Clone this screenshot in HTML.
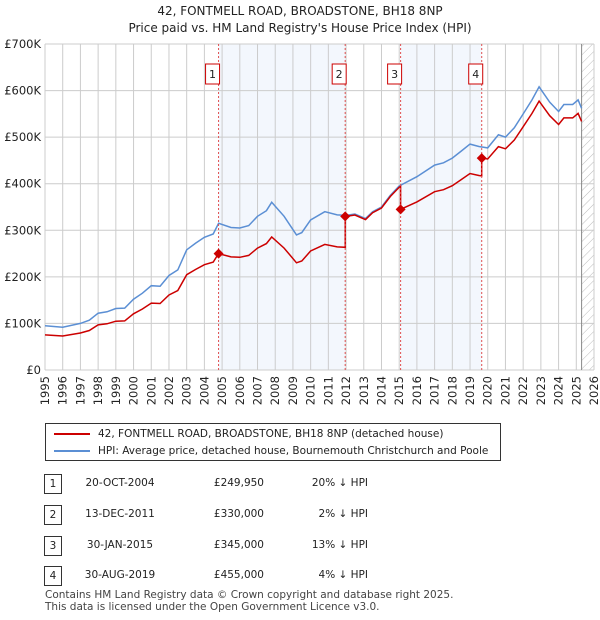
<!DOCTYPE html>
<html><head><meta charset="utf-8"><style>
body{margin:0;background:#fff;font-family:"DejaVu Sans","Liberation Sans",sans-serif;}
#wrap{position:relative;width:600px;height:620px;overflow:hidden}
.t{position:absolute;font-size:12px;color:#222}
</style></head><body>
<div id="wrap">
<div class="t" style="left:0;width:600px;top:3px;text-align:center;font-size:12px;line-height:17px;color:#222">42, FONTMELL ROAD, BROADSTONE, BH18 8NP<br>Price paid vs. HM Land Registry's House Price Index (HPI)</div>
<svg id="chart" width="600" height="420" style="position:absolute;left:0;top:0;font-family:'DejaVu Sans',sans-serif"></svg>
<div style="position:absolute;left:45px;top:423px;width:456px;height:38px;border:1px solid #333;box-sizing:border-box">
 <div style="position:absolute;left:8px;top:4px;font-size:10.5px;color:#222"><span style="display:inline-block;width:36px;height:2px;background:#cc0000;vertical-align:middle;margin-right:8px"></span>42, FONTMELL ROAD, BROADSTONE, BH18 8NP (detached house)</div>
 <div style="position:absolute;left:8px;top:21px;font-size:10.5px;color:#222"><span style="display:inline-block;width:36px;height:2px;background:#5b8fd4;vertical-align:middle;margin-right:8px"></span>HPI: Average price, detached house, Bournemouth Christchurch and Poole</div>
</div>
<div id="table"></div>
<div class="t" style="left:45px;top:589px;font-size:10.5px;line-height:12px;color:#444">Contains HM Land Registry data © Crown copyright and database right 2025.<br>This data is licensed under the Open Government Licence v3.0.</div>
</div>
<script>
const hpiYears=[1995,1996,1997,1997.5,1998,1998.5,1999,1999.5,2000,2000.5,2001,2001.5,2002,2002.5,2003,2003.5,2004,2004.5,2004.8,2005.5,2006,2006.5,2007,2007.5,2007.8,2008.5,2009.2,2009.5,2010,2010.8,2011.5,2012,2012.5,2013.1,2013.5,2014,2014.5,2015,2016,2017,2017.5,2018,2018.5,2019,2019.5,2020,2020.6,2021,2021.5,2022,2022.5,2022.9,2023.5,2024,2024.3,2024.8,2025.1,2025.3];
const hpiValues=[95,92,100,107,122,125,132,133,152,165,181,180,203,215,258,272,285,292,315,306,305,310,330,342,360,330,290,295,322,340,333,332,335,325,340,350,375,395,415,440,445,455,470,485,480,477,505,500,520,550,580,608,575,555,570,570,580,562];
const saleLabels=["1","2","3","4"];
const saleYears=[2004.8,2011.95,2015.08,2019.66];
const salePrices=[249.95,330,345,455];
const saleDates=["20-OCT-2004","13-DEC-2011","30-JAN-2015","30-AUG-2019"];
const salePriceText=["£249,950","£330,000","£345,000","£455,000"];
const salePct=["20% ↓ HPI","2% ↓ HPI","13% ↓ HPI","4% ↓ HPI"];
const yTicks=[0,100,200,300,400,500,600,700];
const yTickLabels=["£0","£100K","£200K","£300K","£400K","£500K","£600K","£700K"];
const xTicks=[1995,1996,1997,1998,1999,2000,2001,2002,2003,2004,2005,2006,2007,2008,2009,2010,2011,2012,2013,2014,2015,2016,2017,2018,2019,2020,2021,2022,2023,2024,2025,2026];

const L=45,R=594,T=44,B=370,X0=1995,X1=2026,Ymax=700;
const sx=v=>L+(v-X0)/(X1-X0)*(R-L);
const sy=v=>B-v/Ymax*(B-T);
const NS="http://www.w3.org/2000/svg";
const svg=document.getElementById('chart');
function mk(tag,attrs,parent){const e=document.createElementNS(NS,tag);for(const k in attrs)e.setAttribute(k,attrs[k]);(parent||svg).appendChild(e);return e;}
function hpiAt(y){for(let i=1;i<hpiYears.length;i++){if(y<=hpiYears[i]){const a=hpiYears[i-1],b=hpiYears[i];return hpiValues[i-1]+(hpiValues[i]-hpiValues[i-1])*(y-a)/(b-a);}}return hpiValues[hpiValues.length-1];}
for(let i=0;i<saleYears.length;i+=2){
 const x1=sx(saleYears[i]),x2=i+1<saleYears.length?sx(saleYears[i+1]):R;
 const r=mk('rect',{x:x1,y:T,width:x2-x1,height:B-T,fill:'#eef3fc',opacity:0.7});
 
 
}
const defs=mk('defs',{});
const pat=mk('pattern',{id:'hatch',width:6,height:6,patternUnits:'userSpaceOnUse',patternTransform:'rotate(45)'},defs);
mk('line',{x1:0,y1:0,x2:0,y2:6,stroke:'#bbb','stroke-width':1},pat);
const lastX=sx(2025.3);
const hr=mk('rect',{x:lastX,y:T,width:R-lastX,height:B-T,fill:'url(#hatch)'});


xTicks.forEach(v=>{const l=mk('line',{x1:sx(v),x2:sx(v),y1:T,y2:B,stroke:'#ccc','stroke-width':1});
 
 
 const t=mk('text',{x:0,y:0,'font-size':11.5,fill:'#222','text-anchor':'end',transform:`translate(${sx(v)+4},${B+6}) rotate(-90)`});
 t.textContent=v;
 
 
});
yTicks.forEach((v,i)=>{const l=mk('line',{x1:L,x2:R,y1:sy(v),y2:sy(v),stroke:'#ccc','stroke-width':1});
 
 
 const t=mk('text',{x:L-4,y:sy(v)+4,'font-size':11.5,fill:'#222','text-anchor':'end'});
 t.textContent=yTickLabels[i];
 
 
});
mk('line',{x1:lastX,x2:lastX,y1:T,y2:B,stroke:'#888','stroke-width':1});
let d='';hpiYears.forEach((y,i)=>{d+=(i?'L':'M')+sx(y).toFixed(1)+','+sy(hpiValues[i]).toFixed(1);});
const hp=mk('path',{d:d,fill:'none',stroke:'#5b8fd4','stroke-width':1.5});


const ratio0=salePrices[0]/hpiAt(saleYears[0]);
let pd='';let pts=[];
hpiYears.forEach((y,i)=>{
 let k=-1;for(let j=0;j<saleYears.length;j++)if(y>=saleYears[j])k=j;
 pts.push([y,k<0?hpiValues[i]*ratio0:hpiValues[i]*salePrices[k]/hpiAt(saleYears[k])]);
});
saleYears.forEach((s,j)=>{
 const prevRatio=j===0?ratio0:salePrices[j-1]/hpiAt(saleYears[j-1]);
 pts.push([s-0.001,hpiAt(s)*prevRatio]);pts.push([s,salePrices[j]]);
});
pts.sort((a,b)=>a[0]-b[0]);
pts.forEach((p,i)=>{pd+=(i?'L':'M')+sx(p[0]).toFixed(1)+','+sy(p[1]).toFixed(1);});
const pp=mk('path',{d:pd,fill:'none',stroke:'#cc0000','stroke-width':1.5});


saleYears.forEach((s,j)=>{
 const x=sx(s);
 const vl=mk('line',{x1:x,x2:x,y1:T,y2:B,stroke:'#e05050','stroke-width':1,'stroke-dasharray':'2,2'});
 
 
 const y=sy(salePrices[j]);
 const dm=mk('path',{d:`M${x},${y-5}L${x+5},${y}L${x},${y+5}L${x-5},${y}Z`,fill:'#cc0000'});
 
 
 const bx=mk('rect',{x:x-13,y:64,width:14,height:20,fill:'#fff',stroke:'#cc0000','stroke-width':1});
 
 
 const bt=mk('text',{x:x-6,y:78,'font-size':11,'text-anchor':'middle',fill:'#222'});
 bt.textContent=saleLabels[j];
 
 
});
const tb=document.getElementById('table');
const rowY=[474,505,536,566];
saleLabels.forEach((lab,j)=>{
 const row=document.createElement('div');
 
 
 row.style.cssText=`position:absolute;left:0;top:${rowY[j]}px;width:600px;height:20px;font-size:10.5px;color:#222`;
 row.innerHTML=`<div style="position:absolute;left:44px;top:0;width:16px;height:18px;border:1px solid #333;text-align:center;line-height:18px">${lab}</div>
 <div style="position:absolute;left:70px;width:100px;top:3px;text-align:center">${saleDates[j]}</div>
 <div style="position:absolute;left:190px;width:74px;top:3px;text-align:right">${salePriceText[j]}</div>
 <div style="position:absolute;left:280px;width:88px;top:3px;text-align:right">${salePct[j]}</div>`;
 tb.appendChild(row);
});
</script>
</body></html>
